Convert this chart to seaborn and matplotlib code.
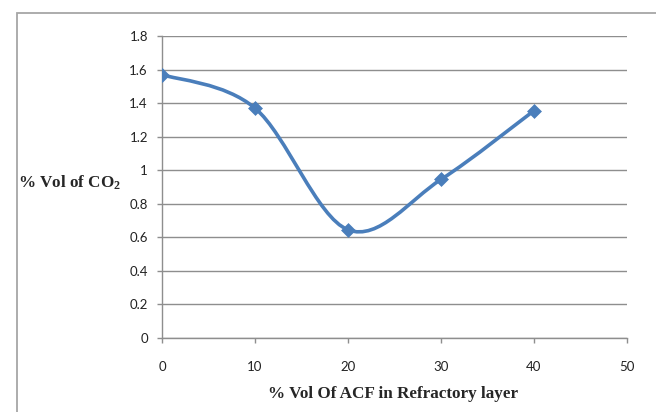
import matplotlib
matplotlib.use("Agg")
import matplotlib.pyplot as plt
from matplotlib.path import Path
from matplotlib.patches import PathPatch, Rectangle
import seaborn as sns
import pandas as pd
import numpy as np

# Data
acf = [0, 10, 20, 30, 40]
co2 = [1.57, 1.37, 0.645, 0.945, 1.355]
x_ticks = [0, 10, 20, 30, 40, 50]
y_ticks = [0, 0.2, 0.4, 0.6, 0.8, 1, 1.2, 1.4, 1.6, 1.8]
y_tick_labels = ["0", "0.2", "0.4", "0.6", "0.8", "1", "1.2", "1.4", "1.6", "1.8"]
x_label = "% Vol Of ACF in Refractory layer"
y_label = "% Vol of CO$_2$"

sns.set_theme(style="white")
plt.rcParams["mathtext.fontset"] = "custom"
plt.rcParams["mathtext.rm"] = "Liberation Serif:bold"
plt.rcParams["mathtext.it"] = "Liberation Serif:bold"
plt.rcParams["mathtext.bf"] = "Liberation Serif:bold"

df = pd.DataFrame({"acf": acf, "co2": co2})
blue = "#4A7EBB"
grid_c = "#8E8E8E"

fig = plt.figure(figsize=(6.56, 4.12), dpi=100)
ax = fig.add_axes([162/656, 1-338/412, (627-162)/656, (338-36)/412])

# smooth (Excel-style) curve through the data points via Bezier path
xs = np.array(acf, dtype=float)
ys = np.array(co2, dtype=float)
n = len(xs)
verts = [(xs[0], ys[0])]
codes = [Path.MOVETO]
for i in range(n - 1):
    i0 = max(i - 1, 0)
    i3 = min(i + 2, n - 1)
    c1 = (xs[i] + (xs[i+1] - xs[i0]) / 6, ys[i] + (ys[i+1] - ys[i0]) / 6)
    c2 = (xs[i+1] - (xs[i3] - xs[i]) / 6, ys[i+1] - (ys[i3] - ys[i]) / 6)
    verts += [c1, c2, (xs[i+1], ys[i+1])]
    codes += [Path.CURVE4] * 3
patch = PathPatch(Path(verts, codes), facecolor="none", edgecolor=blue,
                  lw=2.6, capstyle="round", joinstyle="round", zorder=3)
ax.add_patch(patch)

sns.scatterplot(data=df, x="acf", y="co2", ax=ax, marker="D", s=50,
                color=blue, edgecolor=blue, linewidth=0.5, zorder=4)

ax.set_xlim(0, 50)
ax.set_ylim(0, 1.8)
ax.set_xticks(x_ticks)
ax.set_xticklabels([str(t) for t in x_ticks])
ax.set_yticks(y_ticks)
ax.set_yticklabels(y_tick_labels)
ax.set_xlabel("")
ax.set_ylabel("")

ax.grid(axis="y", color=grid_c, lw=1.0)
ax.grid(axis="x", visible=False)
for s in ["top", "right"]:
    ax.spines[s].set_visible(False)
for s in ["left", "bottom"]:
    ax.spines[s].set_color(grid_c)
    ax.spines[s].set_linewidth(1.0)

ax.tick_params(axis="y", direction="out", length=3.6, width=1.0, color=grid_c,
               pad=6.5, labelsize=9.5, labelcolor="#222222", left=True)
ax.tick_params(axis="x", direction="out", length=3.6, width=1.0, color=grid_c,
               pad=13, labelsize=9.5, labelcolor="#222222", bottom=True)
for lab in ax.get_xticklabels() + ax.get_yticklabels():
    lab.set_fontfamily("Lato")

fig.text(18/656, 1-183/412, y_label, ha="left", va="center",
         fontfamily="Liberation Serif", fontweight="bold", fontsize=12.3)
fig.text(393/656, 1-394/412, x_label, ha="center", va="center",
         fontfamily="Liberation Serif", fontweight="bold", fontsize=12.3)

# chart border
fig.patches.append(Rectangle((17/656, -0.1), 1.2, 1.1 - 13/412 + 0.0,
                             transform=fig.transFigure, fill=False,
                             edgecolor="#A6A6A6", lw=1.3))

fig.savefig("out.png", dpi=100)
